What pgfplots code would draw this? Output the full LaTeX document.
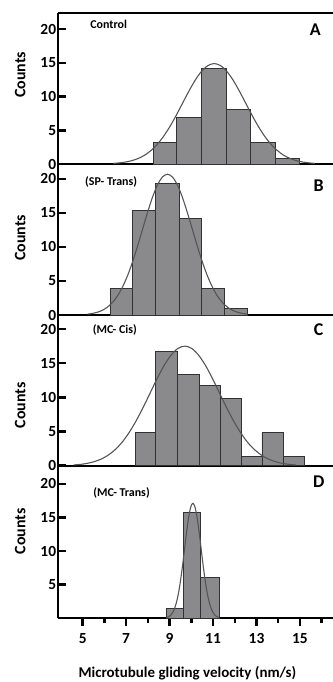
\documentclass[border=0pt]{standalone}
\usepackage{fontspec}
\setmainfont{Carlito}
\usepackage{pgfplots}
\pgfplotsset{compat=1.18}
\definecolor{barfill}{RGB}{138,138,140}
\definecolor{baredge}{RGB}{50,50,50}
\definecolor{curvecol}{RGB}{85,85,85}
\tikzset{
  txt/.style={font=\fontsize{12}{12}\selectfont\bfseries, anchor=west},
  lab/.style={font=\fontsize{18}{18}\selectfont\bfseries},
}
\pgfplotsset{
  panel/.style={
    scale only axis, width=274.7bp, height=151bp,
    xmin=3.877, xmax=16.52, ymin=0,
    axis x line*=bottom, axis y line*=left,
    axis line style={line width=2bp,-},
    every outer x axis line/.append style={-},
    every outer y axis line/.append style={-},
    ytick={0,5,10,15,20},
    xtick=\empty,
    tick align=inside,
    major tick length=7.5bp,
    minor tick length=5bp,
    tick style={black,line width=2.5bp},
    tick label style={font=\fontsize{15.5}{16}\selectfont\bfseries},
    /pgf/number format/assume math mode=true,
    yticklabel style={inner sep=0pt,xshift=-2bp},
    ylabel={\fontsize{16}{16}\selectfont\bfseries Counts},
    clip=false,
  },
  bars/.style={ybar interval, fill=barfill, draw=baredge, line width=0.9bp},
  fit/.style={curvecol, line width=1.1bp, smooth},
}
\begin{document}
\begin{tikzpicture}
\path[use as bounding box] (-58.3bp,-63.7bp) rectangle (274.7bp,618.3bp);

% Panel A
\begin{axis}[panel, at={(0,454.3bp)}, anchor=south west, ymax=22.4,
  ylabel style={at={(axis description cs:-0.139,0.59)},anchor=center}]
\addplot[bars] coordinates {(8.25,3.2) (9.33,6.9) (10.48,14.1) (11.6,8.1) (12.74,3.2) (13.87,0.85) (14.97,0)};
\addplot[fit] coordinates {(6.41,0.09) (6.70,0.17) (6.99,0.30) (7.28,0.51) (7.57,0.84) (7.86,1.32) (8.15,2.02) (8.44,2.95) (8.73,4.14) (9.02,5.59) (9.31,7.25) (9.60,9.04) (9.89,10.82) (10.18,12.45) (10.47,13.75) (10.76,14.60) (11.05,14.9) (11.34,14.60) (11.63,13.75) (11.92,12.45) (12.21,10.82) (12.50,9.04) (12.79,7.25) (13.08,5.59) (13.37,4.14) (13.66,2.95) (13.95,2.02) (14.24,1.32) (14.53,0.84) (14.82,0.51) (15.11,0.30) (15.40,0.17) (15.69,0.09)};
\draw[line width=2bp] (rel axis cs:0,1) -- (rel axis cs:1,1);
\node[txt] at (rel axis cs:0.104,0.924) {Control};
\node[lab] at (rel axis cs:0.936,0.892) {A};
\end{axis}

% Panel B
\begin{axis}[panel, at={(0,303.3bp)}, anchor=south west, ymax=22.2,
  ylabel style={at={(axis description cs:-0.139,0.51)},anchor=center}]
\addplot[bars] coordinates {(6.26,3.9) (7.30,15.3) (8.36,19.3) (9.44,14.2) (10.48,3.9) (11.51,0.9) (12.59,0)};
\addplot[fit] coordinates {(5.22,0.12) (5.45,0.23) (5.68,0.41) (5.91,0.70) (6.14,1.16) (6.37,1.84) (6.60,2.80) (6.83,4.10) (7.06,5.75) (7.29,7.77) (7.52,10.08) (7.75,12.55) (7.98,15.03) (8.21,17.29) (8.44,19.11) (8.67,20.29) (8.90,20.7) (9.13,20.29) (9.36,19.11) (9.59,17.29) (9.82,15.03) (10.05,12.55) (10.28,10.08) (10.51,7.77) (10.74,5.75) (10.97,4.10) (11.20,2.80) (11.43,1.84) (11.66,1.16) (11.89,0.70) (12.12,0.41) (12.35,0.23) (12.58,0.12)};
\node[txt] at (rel axis cs:0.085,0.883) {(SP- Trans)};
\node[lab] at (rel axis cs:0.948,0.856) {B};
\end{axis}

% Panel C
\begin{axis}[panel, at={(0,152.6bp)}, anchor=south west, height=150.7bp, ymax=22.05,
  ylabel style={at={(axis description cs:-0.139,0.40)},anchor=center}]
\addplot[bars] coordinates {(7.44,4.8) (8.36,16.7) (9.38,13.3) (10.36,11.7) (11.33,9.9) (12.31,1.4) (13.25,4.8) (14.24,1.4) (15.21,0)};
\addplot[fit] coordinates {(4.58,0.11) (4.90,0.19) (5.22,0.35) (5.54,0.60) (5.86,0.98) (6.18,1.56) (6.50,2.37) (6.82,3.46) (7.14,4.87) (7.46,6.57) (7.78,8.52) (8.10,10.61) (8.42,12.71) (8.74,14.62) (9.06,16.15) (9.38,17.15) (9.70,17.5) (10.02,17.15) (10.34,16.15) (10.66,14.62) (10.98,12.71) (11.30,10.61) (11.62,8.52) (11.94,6.57) (12.26,4.87) (12.58,3.46) (12.90,2.37) (13.22,1.56) (13.54,0.98) (13.86,0.60) (14.18,0.35) (14.50,0.19) (14.82,0.11)};
\node[txt] at (rel axis cs:0.113,0.90) {(MC- Cis)};
\node[lab] at (rel axis cs:0.948,0.905) {C};
\end{axis}

% Panel D
\begin{axis}[panel, at={(0,0)}, anchor=south west, height=152.6bp, ymax=22.7,
  ytick={5,10,15,20},
  xtick={5,7,9,11,13,15}, minor xtick={6,8,10,12,14,16},
  xtick align=outside,
  xticklabel style={yshift=-4bp},
  xlabel={\fontsize{15}{16}\selectfont\bfseries Microtubule gliding velocity (nm/s)},
  xlabel style={at={(axis description cs:0.47,0)},anchor=center,yshift=-55bp},
  ylabel style={at={(axis description cs:-0.139,0.57)},anchor=center}]
\addplot[bars] coordinates {(8.84,1.5) (9.62,15.7) (10.44,6.1) (11.28,0)};
\addplot[fit] coordinates {(8.854,0.10) (8.93,0.19) (9.006,0.34) (9.082,0.58) (9.158,0.96) (9.234,1.52) (9.31,2.31) (9.386,3.38) (9.462,4.75) (9.538,6.42) (9.614,8.32) (9.69,10.37) (9.766,12.42) (9.842,14.28) (9.918,15.79) (9.994,16.76) (10.07,17.1) (10.146,16.76) (10.222,15.79) (10.298,14.28) (10.374,12.42) (10.45,10.37) (10.526,8.32) (10.602,6.42) (10.678,4.75) (10.754,3.38) (10.83,2.31) (10.906,1.52) (10.982,0.96) (11.058,0.58) (11.134,0.34) (11.21,0.19) (11.286,0.10)};
\node[txt] at (rel axis cs:0.115,0.82) {(MC- Trans)};
\node[lab] at (rel axis cs:0.948,0.895) {D};
\end{axis}
\end{tikzpicture}
\end{document}
